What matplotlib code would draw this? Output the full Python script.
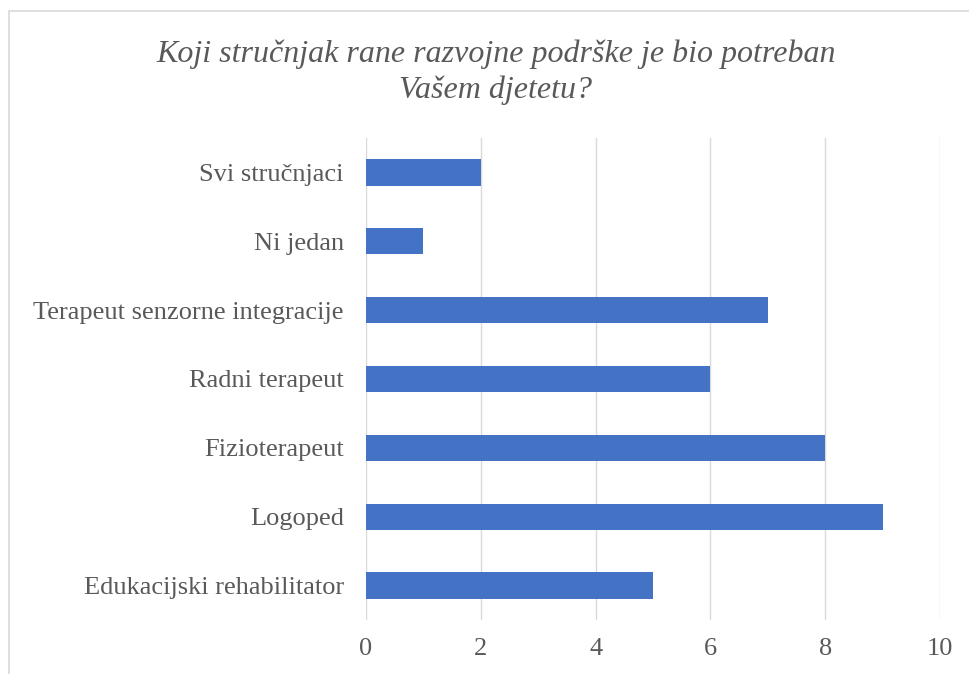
import matplotlib.pyplot as plt
from matplotlib.patches import Rectangle

categories = ["Edukacijski rehabilitator", "Logoped", "Fizioterapeut", "Radni terapeut",
              "Terapeut senzorne integracije", "Ni jedan", "Svi stručnjaci"]
values = [5, 9, 8, 6, 7, 1, 2]
xticks = [0, 2, 4, 6, 8, 10]
title = "Koji stručnjak rane razvojne podrške je bio potreban\nVašem djetetu?"

plt.rcParams['font.family'] = ['Liberation Serif', 'DejaVu Serif']

fig = plt.figure(figsize=(9.7, 6.74), dpi=100)
ax = fig.add_axes([366 / 970, 1 - 620 / 674, (940 - 366) / 970, (620 - 138) / 674])

ax.barh(range(len(categories)), values, height=0.38, color="#4472C4", zorder=3)
ax.set_ylim(-0.5, len(categories) - 0.5)
ax.set_xlim(0, 10)
ax.set_xticks(xticks)
ax.set_yticks(range(len(categories)))
ax.set_yticklabels(categories)
ax.grid(axis="x", color="#D9D9D9", linewidth=1, zorder=0)
for s in ax.spines.values():
    s.set_visible(False)
ax.tick_params(length=0, labelsize=19, colors="#595959")
ax.tick_params(axis="y", pad=16)
ax.tick_params(axis="x", pad=13)

fig.text(496 / 970, 1 - 72 / 674, title, ha="center", va="center", fontsize=23,
         style="italic", color="#595959", linespacing=1.3)

# chart frame, cut off at the right and bottom like the screenshot
fig.patches.append(Rectangle((9.5 / 970, -0.05), 1.0, 1 - 10.5 / 674 + 0.05,
                             transform=fig.transFigure, fill=False,
                             edgecolor="#D9D9D9", linewidth=1.2))

fig.savefig("out.png", dpi=100)
